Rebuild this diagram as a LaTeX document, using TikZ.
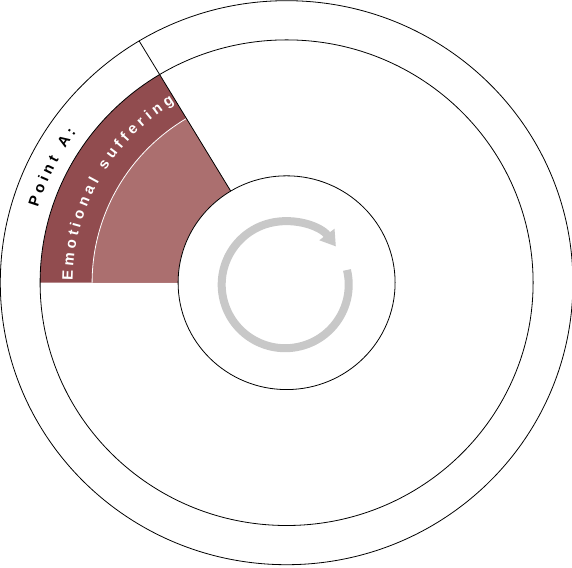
\documentclass[tikz,border=0pt]{standalone}
\usepackage{fontspec}
\setmainfont{Liberation Sans}
\newfontfamily\labfont{Liberation Sans Bold}
\newcommand\labfmt{\labfont\fontsize{15pt}{18pt}\selectfont}
\usetikzlibrary{arrows.meta}
\definecolor{darkband}{RGB}{145,76,79}
\definecolor{lightsec}{RGB}{171,111,111}
\definecolor{cyclegray}{RGB}{200,200,200}
\begin{document}
\begin{tikzpicture}[x=1pt,y=1pt,
  ringline/.style={draw=black,line width=0.8pt},
  letter/.style={inner sep=0pt,anchor=base,font=\labfmt},
  cyclearrow/.style={cyclegray,line width=8pt,-{Triangle[length=15pt,width=18pt]}}]
\useasboundingbox (0,0) rectangle (572,567);
\begin{scope}[shift={(286.6,284.3)},yscale=0.985]
  \coordinate (c) at (0,0);
  % dark band sector
  \fill[darkband] (c) -- (180:246.5) arc[start angle=180,end angle=121,radius=246.5] -- cycle;
  % light sector
  \fill[lightsec] (c) -- (180:194.5) arc[start angle=180,end angle=121,radius=194.5] -- cycle;
  \draw[white,line width=0.8pt] (180:194.5) arc[start angle=180,end angle=121,radius=194.5];
  % centre circle
  \draw[ringline,fill=white] (c) circle[radius=108.5];
  % radial divider
  \draw[ringline] (121:108.5) -- (121:286.3);
  % rings
  \draw[ringline] (c) circle[radius=246.5];
  \draw[ringline] (c) circle[radius=286.3];
  % label: Point A:
  \foreach \ch/\w [count=\i, remember=\np as \p (initially 0)] in
    {P/0.667,o/0.611,i/0.278,n/0.611,t/0.333,{}/0.278,A/0.722,:/0.333} {
    \pgfmathsetmacro\mid{\p+\w*7.5}
    \pgfmathsetmacro\np{\p+\w*15+4.1}
    \pgfmathsetmacro\ang{163-\mid/260*57.29578}
    \node[letter,text=black,rotate=\ang-90] (pa\i) at (\ang:260) {\ch};
  }
  % label: Emotional suffering
  \foreach \ch/\w [count=\i, remember=\np as \p (initially 0)] in
    {E/0.667,m/0.889,o/0.611,t/0.333,i/0.278,o/0.611,n/0.611,a/0.556,l/0.278,{}/0.278,
     s/0.556,u/0.611,f/0.333,f/0.333,e/0.556,r/0.389,i/0.278,n/0.611,g/0.611} {
    \pgfmathsetmacro\mid{\p+\w*7.5}
    \pgfmathsetmacro\np{\p+\w*15+4.2}
    \pgfmathsetmacro\ang{179.5-\mid/214*57.29578}
    \node[letter,text=white,rotate=\ang-90] (es\i) at (\ang:214) {\ch};
  }
\end{scope}
\coordinate (cc) at (285.2,282.3);
\draw[cyclearrow] (cc) ++(13.4:63.5) arc[start angle=13.4,end angle=-323,radius=63.5];
\end{tikzpicture}
\end{document}
